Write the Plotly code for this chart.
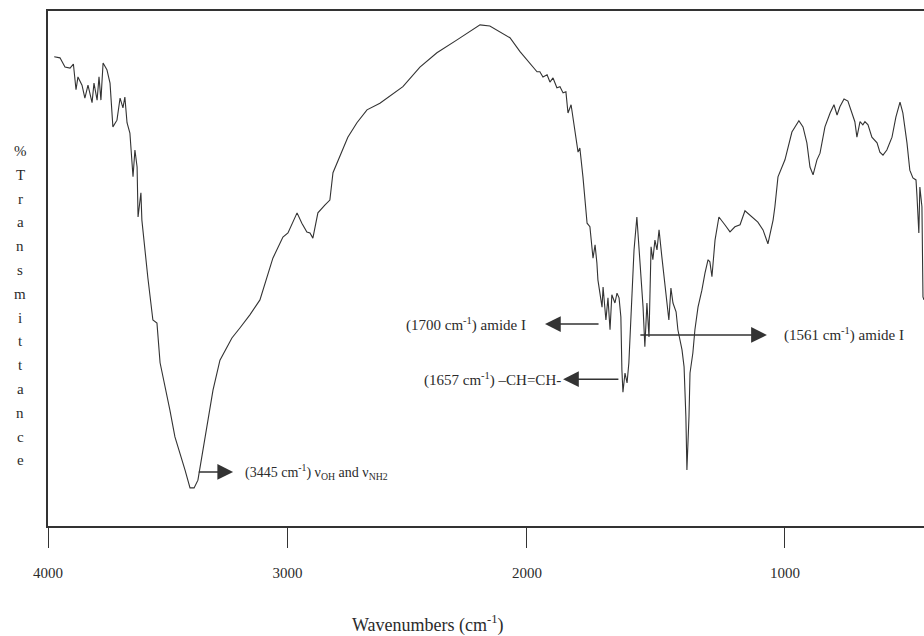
import plotly.graph_objects as go

# Wavenumbers (cm-1) and %Transmittance
wavenumber = [3974, 3950, 3929, 3908, 3894, 3883, 3875, 3858, 3846, 3833, 3816, 3808, 3795, 3787, 3779,
              3770, 3754, 3741, 3729, 3712, 3699, 3687, 3679, 3670, 3658, 3645, 3637, 3628, 3624, 3612,
              3608, 3595, 3583, 3562, 3545, 3532, 3512, 3491, 3470, 3449, 3428, 3407, 3390, 3374, 3353,
              3332, 3311, 3282, 3253, 3232, 3198, 3157, 3115, 3082, 3061, 3019, 2998, 2960, 2940, 2919,
              2906, 2894, 2873, 2844, 2823, 2810, 2781, 2748, 2710, 2668, 2614, 2518, 2447, 2393, 2376,
              2292, 2196, 2155, 2071, 2029, 1988, 1961, 1950, 1938, 1922, 1911, 1899, 1884, 1872, 1860,
              1849, 1841, 1829, 1814, 1802, 1795, 1783, 1767, 1756, 1744, 1736, 1729, 1725, 1709, 1705,
              1694, 1686, 1678, 1671, 1659, 1651, 1643, 1636, 1632, 1628, 1620, 1612, 1605, 1593, 1585,
              1574, 1562, 1550, 1543, 1539, 1535, 1527, 1519, 1512, 1504, 1496, 1488, 1477, 1465, 1457,
              1450, 1442, 1434, 1422, 1415, 1399, 1391, 1384, 1380, 1372, 1368, 1357, 1349, 1337, 1322,
              1310, 1298, 1291, 1283, 1271, 1256, 1233, 1213, 1194, 1174, 1155, 1136, 1105, 1085, 1066,
              1046, 1039, 1027, 1000, 973, 946, 930, 915, 903, 891, 876, 864, 845, 825, 810,
              798, 787, 771, 756, 740, 729, 721, 709, 698, 690, 678, 663, 643, 632, 620,
              605, 585, 570, 554, 543, 527, 516, 504, 492, 488, 481, 477, 469, 465, 461]
transmittance = [91.1, 90.9, 89.1, 88.9, 89.7, 84.7, 87.2, 85.6, 83.1, 85.6, 82.2, 86.0, 82.7, 87.2, 82.7,
                 89.9, 88.6, 86.0, 77.5, 78.8, 83.1, 81.2, 83.3, 78.3, 76.3, 67.8, 73.0, 69.7, 60.0, 64.7,
                 59.4, 53.0, 48.2, 40.0, 39.4, 31.7, 27.4, 22.5, 17.3, 14.2, 10.9, 7.4, 7.4, 8.9, 14.8,
                 20.6, 26.4, 32.2, 34.8, 36.5, 38.5, 41.0, 43.9, 48.7, 52.0, 56.1, 56.9, 60.8, 58.8, 57.1,
                 56.9, 55.9, 60.8, 62.3, 63.3, 68.6, 71.7, 75.5, 78.3, 80.8, 82.1, 85.3, 89.1, 91.1, 91.9,
                 94.4, 97.3, 97.1, 94.8, 92.1, 89.9, 88.2, 88.2, 87.2, 87.6, 86.2, 87.0, 85.1, 85.3, 84.1,
                 84.3, 80.2, 81.8, 76.9, 72.6, 73.4, 67.8, 58.8, 58.1, 52.0, 54.6, 51.1, 47.8, 42.5, 46.4,
                 40.0, 44.3, 38.1, 44.9, 43.3, 45.2, 44.3, 40.6, 30.3, 26.0, 29.7, 27.8, 31.7, 44.5, 53.6,
                 60.0, 51.7, 42.5, 34.8, 38.6, 43.3, 36.7, 54.2, 51.7, 55.5, 53.6, 57.5, 52.2, 47.2, 43.9,
                 40.0, 46.2, 43.3, 41.6, 38.1, 34.2, 30.9, 21.2, 10.9, 21.2, 29.7, 33.6, 38.1, 42.5, 45.8,
                 49.1, 51.7, 51.3, 48.4, 55.5, 60.0, 58.5, 57.1, 58.1, 58.5, 61.2, 60.4, 59.0, 57.5, 54.8,
                 59.4, 62.0, 67.8, 71.1, 76.5, 78.7, 77.5, 74.4, 69.7, 68.2, 71.1, 72.4, 77.5, 80.2, 81.8,
                 79.8, 81.4, 82.9, 82.5, 80.2, 78.5, 75.5, 78.5, 77.9, 78.5, 77.9, 75.5, 74.4, 72.6, 72.0,
                 73.0, 75.5, 79.4, 82.3, 80.2, 74.4, 69.1, 67.6, 67.2, 63.9, 56.9, 65.8, 62.0, 44.5, 43.9]

tick_values = [4000, 3000, 2000, 1000]
tick_labels = ["4000", "3000", "2000", "1000"]
x_min_wn = 4000
x_max_wn = 461


# Instrument-style axis: scale change at 2000 cm-1 (4000-2000 compressed)
def tx(w):
    if w >= 2000:
        return (4000 - w) * 0.2395
    return (4000 - 2000) * 0.2395 + (2000 - w) * 0.258


FONT = "Liberation Serif"
INK = "#2b2b2b"
W, H = 924, 636
L, R, T, B = 48, 0, 11, 110
PW, PH = W - L - R, H - T - B


def paper_x(px):
    return (px - L) / PW


def paper_y(py):
    return (H - B - py) / PH


fig = go.Figure()
fig.add_trace(go.Scatter(
    x=[tx(w) for w in wavenumber], y=transmittance, mode="lines",
    line=dict(color="#333333", width=1.1), showlegend=False, hoverinfo="skip"))

fig.update_layout(
    width=W, height=H,
    margin=dict(l=L, r=R, t=T, b=B),
    paper_bgcolor="white", plot_bgcolor="white",
    font=dict(family=FONT, size=14, color=INK),
    xaxis=dict(range=[tx(x_min_wn), tx(x_max_wn)], showgrid=False, zeroline=False,
               showline=True, linecolor="#333333", linewidth=2, mirror=True,
               tickvals=[tx(v) for v in tick_values], ticktext=tick_labels,
               ticks="outside", ticklen=20, tickwidth=1, tickcolor="#333333",
               ticklabelstandoff=12, tickfont=dict(family=FONT, size=15, color=INK)),
    yaxis=dict(range=[0, 100], showgrid=False, zeroline=False, showticklabels=False,
               showline=True, linecolor="#333333", linewidth=2, ticks=""),
)

# Arrows (tail wavenumber, head wavenumber, %T)
arrows = [(3385, 3227, 10.5), (1709, 1930, 39.2), (1632, 1860, 28.5), (1574, 1070, 37.1)]
for tail, head, t in arrows:
    fig.add_annotation(x=tx(head), y=t, ax=tx(tail), ay=t, xref="x", yref="y",
                       axref="x", ayref="y", text=" ", showarrow=True,
                       arrowhead=2, arrowsize=2.1, arrowwidth=1.5, arrowcolor="#333333")

labels = [
    (3185, 10.5, "left", 14, "(3445 cm<sup>-1</sup>) ν<sub>OH</sub> and ν<sub>NH2</sub>"),
    (1995, 39.2, "right", 15, "(1700 cm<sup>-1</sup>) amide I"),
    (1862, 28.5, "right", 15, "(1657 cm<sup>-1</sup>) –CH=CH-"),
    (1010, 37.1, "left", 15, "(1561 cm<sup>-1</sup>) amide I"),
]
for w, t, anchor, size, txt in labels:
    fig.add_annotation(x=tx(w), y=t, xref="x", yref="y", text=txt, showarrow=False,
                       xanchor=anchor, yanchor="middle",
                       font=dict(family=FONT, size=size, color=INK))

# Axis titles
fig.add_annotation(x=paper_x(428), y=paper_y(624), xref="paper", yref="paper",
                   text="Wavenumbers (cm<sup>-1</sup>)", showarrow=False,
                   xanchor="center", yanchor="middle", font=dict(family=FONT, size=18, color=INK))

ylabel = list("%Transmittance")
for i, ch in enumerate(ylabel):
    ypix = 151 + i * 23.8
    fig.add_annotation(x=paper_x(20), y=paper_y(ypix), xref="paper", yref="paper", text=ch,
                       showarrow=False, xanchor="center", yanchor="middle",
                       font=dict(family=FONT, size=15, color=INK))

fig.write_html("out.html")
